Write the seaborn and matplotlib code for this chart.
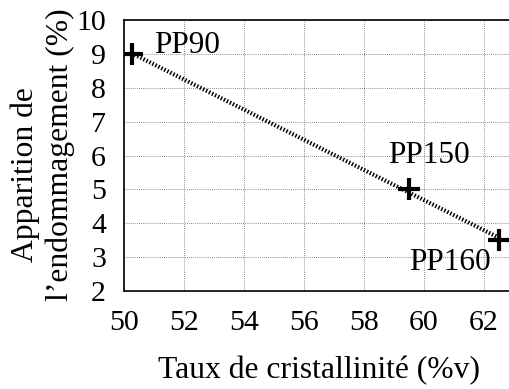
import matplotlib
matplotlib.use("Agg")
import matplotlib.pyplot as plt
import seaborn as sns
import pandas as pd

# Crystallinity vs. onset of damage for three PP grades
grades = ["PP90", "PP150", "PP160"]
crystallinity = [50.25, 59.5, 62.5]
damage_onset = [9.0, 5.0, 3.5]
label_pos_x = [52.1, 60.15, 60.85]
label_pos_y = [9.25, 6.0, 2.85]

xticks = [50, 52, 54, 56, 58, 60, 62]
yticks = [2, 3, 4, 5, 6, 7, 8, 9, 10]

df = pd.DataFrame({"grade": grades, "x": crystallinity, "y": damage_onset})

sns.set_style("white")
plt.rcParams["font.family"] = ["Liberation Serif", "DejaVu Serif"]
plt.rcParams["text.color"] = "black"
plt.rcParams["axes.labelcolor"] = "black"
plt.rcParams["xtick.color"] = "black"
plt.rcParams["ytick.color"] = "black"

W, H = 509, 389
fig = plt.figure(figsize=(W / 100, H / 100), dpi=100)
ax = fig.add_axes([124 / W, 98 / H, 390 / W, 271 / H])

# Linear trend through the three grades
sns.regplot(data=df, x="x", y="y", ax=ax, scatter=False, ci=None, truncate=True,
            line_kws=dict(color="black", lw=3.0, linestyle=(0, (0.35, 0.45)),
                          solid_capstyle="butt", dash_capstyle="butt"))
sns.scatterplot(data=df, x="x", y="y", ax=ax, marker="+", s=230,
                color="black", linewidth=3.0, zorder=5)

for name, tx, ty in zip(grades, label_pos_x, label_pos_y):
    ax.text(tx, ty, name, fontsize=22.5, ha="center", va="center", color="black")

ax.set_xlim(50, 63)
ax.set_ylim(2, 10)
ax.set_xticks(xticks)
ax.set_yticks(yticks)
ax.tick_params(direction="in", length=5, width=0.8, labelsize=21.5, pad=13,
               colors="black", labelcolor="black", top=False, right=False)
ax.tick_params(axis="x", pad=14)
ax.grid(True, color="#666666", linestyle=(0, (1, 1.5)), linewidth=0.6)
for side in ["left", "bottom", "top", "right"]:
    ax.spines[side].set_color("black")
    ax.spines[side].set_linewidth(1.2)

ax.set_xlabel("Taux de cristallinité (%v)", fontsize=22.8, labelpad=14, color="black")
ax.set_ylabel("")

# Two-line rotated y-axis title, each line placed on its own
fig.text(25 / W, 1 - 175 / H, "Apparition de", rotation=90, fontsize=22.8,
         ha="center", va="center", color="black")
fig.text(60 / W, 1 - 155 / H, "l\u2019endommagement (%)", rotation=90,
         fontsize=22.8, ha="center", va="center", color="black")

fig.savefig("out.png", dpi=100)
